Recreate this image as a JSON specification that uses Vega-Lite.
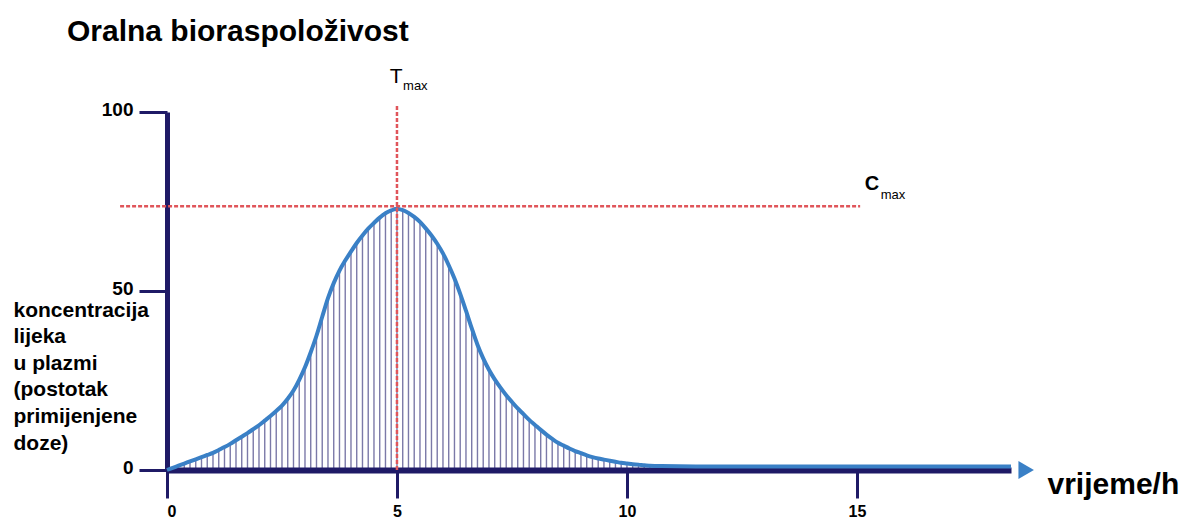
{
  "$schema": "https://vega.github.io/schema/vega-lite/v6.json",
  "width": 844,
  "height": 358,
  "autosize": {"type": "none"},
  "padding": {"left": 167, "top": 112, "right": 172, "bottom": 50},
  "background": "white",
  "config": {"view": {"stroke": null}, "font": "Liberation Sans"},
  "title": {
    "text": "Oralna bioraspoloživost",
    "anchor": "start",
    "frame": "group",
    "dx": -100,
    "offset": -5,
    "baseline": "alphabetic",
    "fontSize": 30,
    "fontWeight": "bold",
    "color": "black",
    "font": "Liberation Sans"
  },
  "datasets": {
    "curve": [
      {"t": 0, "c": 0}, {"t": 0.125, "c": 0.6}, {"t": 0.25, "c": 1.2}, {"t": 0.375, "c": 1.8},
      {"t": 0.5, "c": 2.4}, {"t": 0.625, "c": 3.0}, {"t": 0.75, "c": 3.6}, {"t": 0.875, "c": 4.2},
      {"t": 1.0, "c": 4.8}, {"t": 1.125, "c": 5.6}, {"t": 1.25, "c": 6.4}, {"t": 1.375, "c": 7.3},
      {"t": 1.5, "c": 8.3}, {"t": 1.625, "c": 9.3}, {"t": 1.75, "c": 10.3}, {"t": 1.875, "c": 11.4},
      {"t": 2.0, "c": 12.5}, {"t": 2.125, "c": 13.8}, {"t": 2.25, "c": 15.1}, {"t": 2.375, "c": 16.5},
      {"t": 2.5, "c": 18.0}, {"t": 2.625, "c": 19.9}, {"t": 2.75, "c": 22.2}, {"t": 2.875, "c": 25.2},
      {"t": 3.0, "c": 28.7}, {"t": 3.125, "c": 32.9}, {"t": 3.25, "c": 37.5}, {"t": 3.375, "c": 42.8},
      {"t": 3.5, "c": 48.0}, {"t": 3.625, "c": 52.2}, {"t": 3.75, "c": 55.7}, {"t": 3.875, "c": 58.5},
      {"t": 4.0, "c": 61.0}, {"t": 4.125, "c": 63.4}, {"t": 4.25, "c": 65.5}, {"t": 4.375, "c": 67.4},
      {"t": 4.5, "c": 69.0}, {"t": 4.625, "c": 70.5}, {"t": 4.75, "c": 71.7}, {"t": 4.875, "c": 72.5},
      {"t": 5.0, "c": 73.0}, {"t": 5.125, "c": 72.6}, {"t": 5.25, "c": 71.8}, {"t": 5.375, "c": 70.7},
      {"t": 5.5, "c": 69.3}, {"t": 5.625, "c": 67.5}, {"t": 5.75, "c": 65.5}, {"t": 5.875, "c": 63.2},
      {"t": 6.0, "c": 60.5}, {"t": 6.125, "c": 57.2}, {"t": 6.25, "c": 53.5}, {"t": 6.375, "c": 49.2},
      {"t": 6.5, "c": 44.5}, {"t": 6.625, "c": 39.6}, {"t": 6.75, "c": 35.0}, {"t": 6.875, "c": 31.2},
      {"t": 7.0, "c": 28.0}, {"t": 7.125, "c": 25.3}, {"t": 7.25, "c": 23.0}, {"t": 7.375, "c": 20.9},
      {"t": 7.5, "c": 19.0}, {"t": 7.625, "c": 17.2}, {"t": 7.75, "c": 15.6}, {"t": 7.875, "c": 14.0},
      {"t": 8.0, "c": 12.6}, {"t": 8.125, "c": 11.2}, {"t": 8.25, "c": 9.9}, {"t": 8.375, "c": 8.7},
      {"t": 8.5, "c": 7.6}, {"t": 8.625, "c": 6.8}, {"t": 8.75, "c": 6.0}, {"t": 8.875, "c": 5.3},
      {"t": 9.0, "c": 4.7}, {"t": 9.125, "c": 4.1}, {"t": 9.25, "c": 3.6}, {"t": 9.375, "c": 3.2},
      {"t": 9.5, "c": 2.9}, {"t": 9.625, "c": 2.6}, {"t": 9.75, "c": 2.3}, {"t": 9.875, "c": 2.0},
      {"t": 10.0, "c": 1.8}, {"t": 10.125, "c": 1.6}, {"t": 10.25, "c": 1.5}, {"t": 10.375, "c": 1.3},
      {"t": 10.5, "c": 1.2}, {"t": 10.75, "c": 1.1}, {"t": 11.5, "c": 1.0}, {"t": 14.0, "c": 1.0},
      {"t": 18.35, "c": 1.0}
    ]
  },
  "layer": [
    {
      "data": {"name": "curve"},
      "transform": [{"filter": "datum.t <= 10.5 && datum.c > 0.5"}],
      "mark": {"type": "rule", "color": "#23206e", "opacity": 0.6, "strokeWidth": 1.4},
      "encoding": {
        "x": {
          "field": "t",
          "type": "quantitative",
          "scale": {"domain": [0, 18.35], "nice": false, "zero": false},
          "axis": {
            "values": [0, 5, 10, 15],
            "grid": false,
            "domainColor": "#1f1a66",
            "domainWidth": 6,
            "tickColor": "#1f1a66",
            "tickWidth": 3,
            "tickSize": 28,
            "labelFont": "Liberation Sans",
            "labelFontSize": 16,
            "labelFontWeight": "bold",
            "labelColor": "black",
            "labelPadding": 5,
            "title": "vrijeme/h",
            "titleFont": "Liberation Sans",
            "titleFontSize": 30,
            "titleFontWeight": "bold",
            "titleColor": "black",
            "titleAlign": "left",
            "titleAnchor": null,
            "titleBaseline": "alphabetic",
            "titleX": 880,
            "titleY": 23
          }
        },
        "y": {
          "field": "c",
          "type": "quantitative",
          "scale": {"domain": [0, 100], "nice": false},
          "axis": {
            "values": [0, 50, 100],
            "grid": false,
            "domainColor": "#1f1a66",
            "domainWidth": 5,
            "tickColor": "#1f1a66",
            "tickWidth": 3,
            "tickSize": 28,
            "labelFont": "Liberation Sans",
            "labelFontSize": 19,
            "labelFontWeight": "bold",
            "labelColor": "black",
            "labelPadding": 6,
            "labelOffset": -3,
            "title": ["koncentracija", "lijeka", "u plazmi", "(postotak", "primijenjene", "doze)"],
            "titleFont": "Liberation Sans",
            "titleFontSize": 21,
            "titleFontWeight": "bold",
            "titleColor": "black",
            "titleAngle": 0,
            "titleAlign": "left",
            "titleAnchor": null,
            "titleBaseline": "alphabetic",
            "titleLineHeight": 26.6,
            "titleX": -154,
            "titleY": 204
          }
        },
        "y2": {"datum": 0}
      }
    },
    {
      "data": {"name": "curve"},
      "mark": {"type": "line", "color": "#3a80c6", "strokeWidth": 4, "interpolate": "monotone"},
      "encoding": {
        "x": {"field": "t", "type": "quantitative"},
        "y": {"field": "c", "type": "quantitative"}
      }
    },
    {
      "data": {"values": [{"line": "Tmax"}]},
      "mark": {"type": "rule", "color": "#e0555a", "strokeWidth": 2.5, "strokeDash": [4, 2]},
      "encoding": {
        "x": {"datum": 5},
        "y": {"datum": 0},
        "y2": {"datum": 102}
      }
    },
    {
      "data": {"values": [{"line": "Cmax"}]},
      "mark": {"type": "rule", "color": "#e0555a", "strokeWidth": 2.5, "strokeDash": [4, 2]},
      "encoding": {
        "y": {"datum": 73.7},
        "x": {"datum": -1.02},
        "x2": {"datum": 15.07}
      }
    },
    {
      "data": {"values": [{"label": "arrow"}]},
      "mark": {"type": "point", "shape": "triangle-right", "filled": true, "color": "#3a80c6", "opacity": 1, "size": 320},
      "encoding": {
        "x": {"datum": 18.68},
        "y": {"datum": 0}
      }
    },
    {
      "data": {"values": [{"label": "T"}]},
      "mark": {"type": "text", "align": "center", "baseline": "alphabetic", "fontSize": 21, "font": "Liberation Sans", "color": "black"},
      "encoding": {
        "x": {"datum": 4.98},
        "y": {"datum": 108.1},
        "text": {"field": "label"}
      }
    },
    {
      "data": {"values": [{"label": "max"}]},
      "mark": {"type": "text", "align": "left", "baseline": "alphabetic", "dx": 7, "fontSize": 13, "font": "Liberation Sans", "color": "black"},
      "encoding": {
        "x": {"datum": 4.98},
        "y": {"datum": 106.1},
        "text": {"field": "label"}
      }
    },
    {
      "data": {"values": [{"label": "C"}]},
      "mark": {"type": "text", "align": "left", "baseline": "alphabetic", "fontSize": 20, "fontWeight": "bold", "font": "Liberation Sans", "color": "black"},
      "encoding": {
        "x": {"datum": 15.17},
        "y": {"datum": 78.2},
        "text": {"field": "label"}
      }
    },
    {
      "data": {"values": [{"label": "max"}]},
      "mark": {"type": "text", "align": "left", "baseline": "alphabetic", "dx": 16, "fontSize": 13, "font": "Liberation Sans", "color": "black"},
      "encoding": {
        "x": {"datum": 15.17},
        "y": {"datum": 75.7},
        "text": {"field": "label"}
      }
    }
  ]
}
